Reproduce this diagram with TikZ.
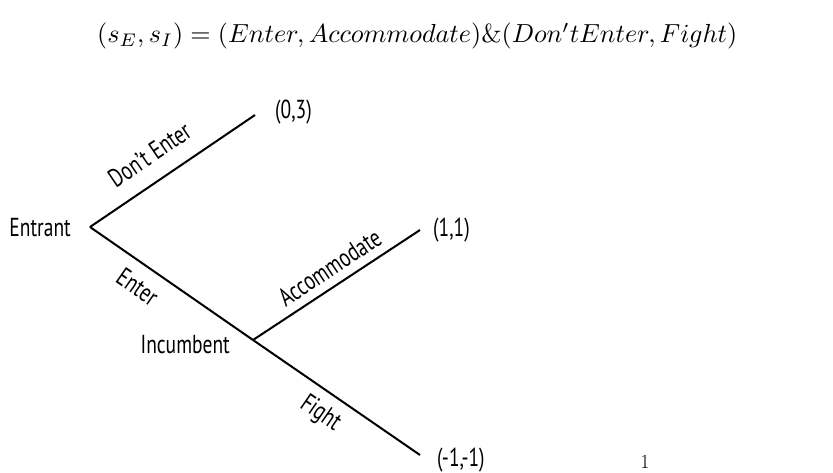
\documentclass[tikz,border=0pt]{standalone}
\usepackage{fontspec}
\newfontfamily\treefont[FakeStretch=0.75]{PT Sans}
\begin{document}
\begin{tikzpicture}[x=1pt,y=-1pt,
  branch/.style={line width=2pt},
  lbl/.style={font=\treefont\fontsize{26}{30}\selectfont, inner sep=0pt},
  blbl/.style={lbl, sloped}]
\useasboundingbox (0,0) rectangle (833,472);
\node[anchor=west, inner sep=0pt] (title) at (97,36)
  {\resizebox{640pt}{!}{$(s_E,s_I)=(Enter,Accommodate)\&(Don't Enter,Fight)$}};
\coordinate (e) at (90,227);
\coordinate (i) at (253,340);
\coordinate (t1) at (255,115);
\coordinate (t2) at (420,230);
\coordinate (t3) at (420,455);
\node[lbl, anchor=east] (entrant) at (71,228) {Entrant};
\node[lbl, anchor=east] (incumbent) at (230,345) {Incumbent};
\node[lbl, anchor=west] (p1) at (275,112) {(0,3)};
\node[lbl, anchor=west] (p2) at (433,230) {(1,1)};
\node[lbl, anchor=west] (p3) at (437,460) {(-1,-1)};
\draw[branch] (e) -- node[blbl, pos=0.45, above=16pt] {Don’t Enter} (t1);
\draw[branch] (e) -- node[blbl, pos=0.37, below=12pt] {Enter} (i);
\draw[branch] (i) -- node[blbl, pos=0.52, above=8pt] {Accommodate} (t2);
\draw[branch] (i) -- node[blbl, pos=0.48, below=10pt] {Fight} (t3);
\node[font=\fontsize{20}{24}\selectfont, inner sep=0pt] (pg) at (645,462) {1};
\end{tikzpicture}
\end{document}
